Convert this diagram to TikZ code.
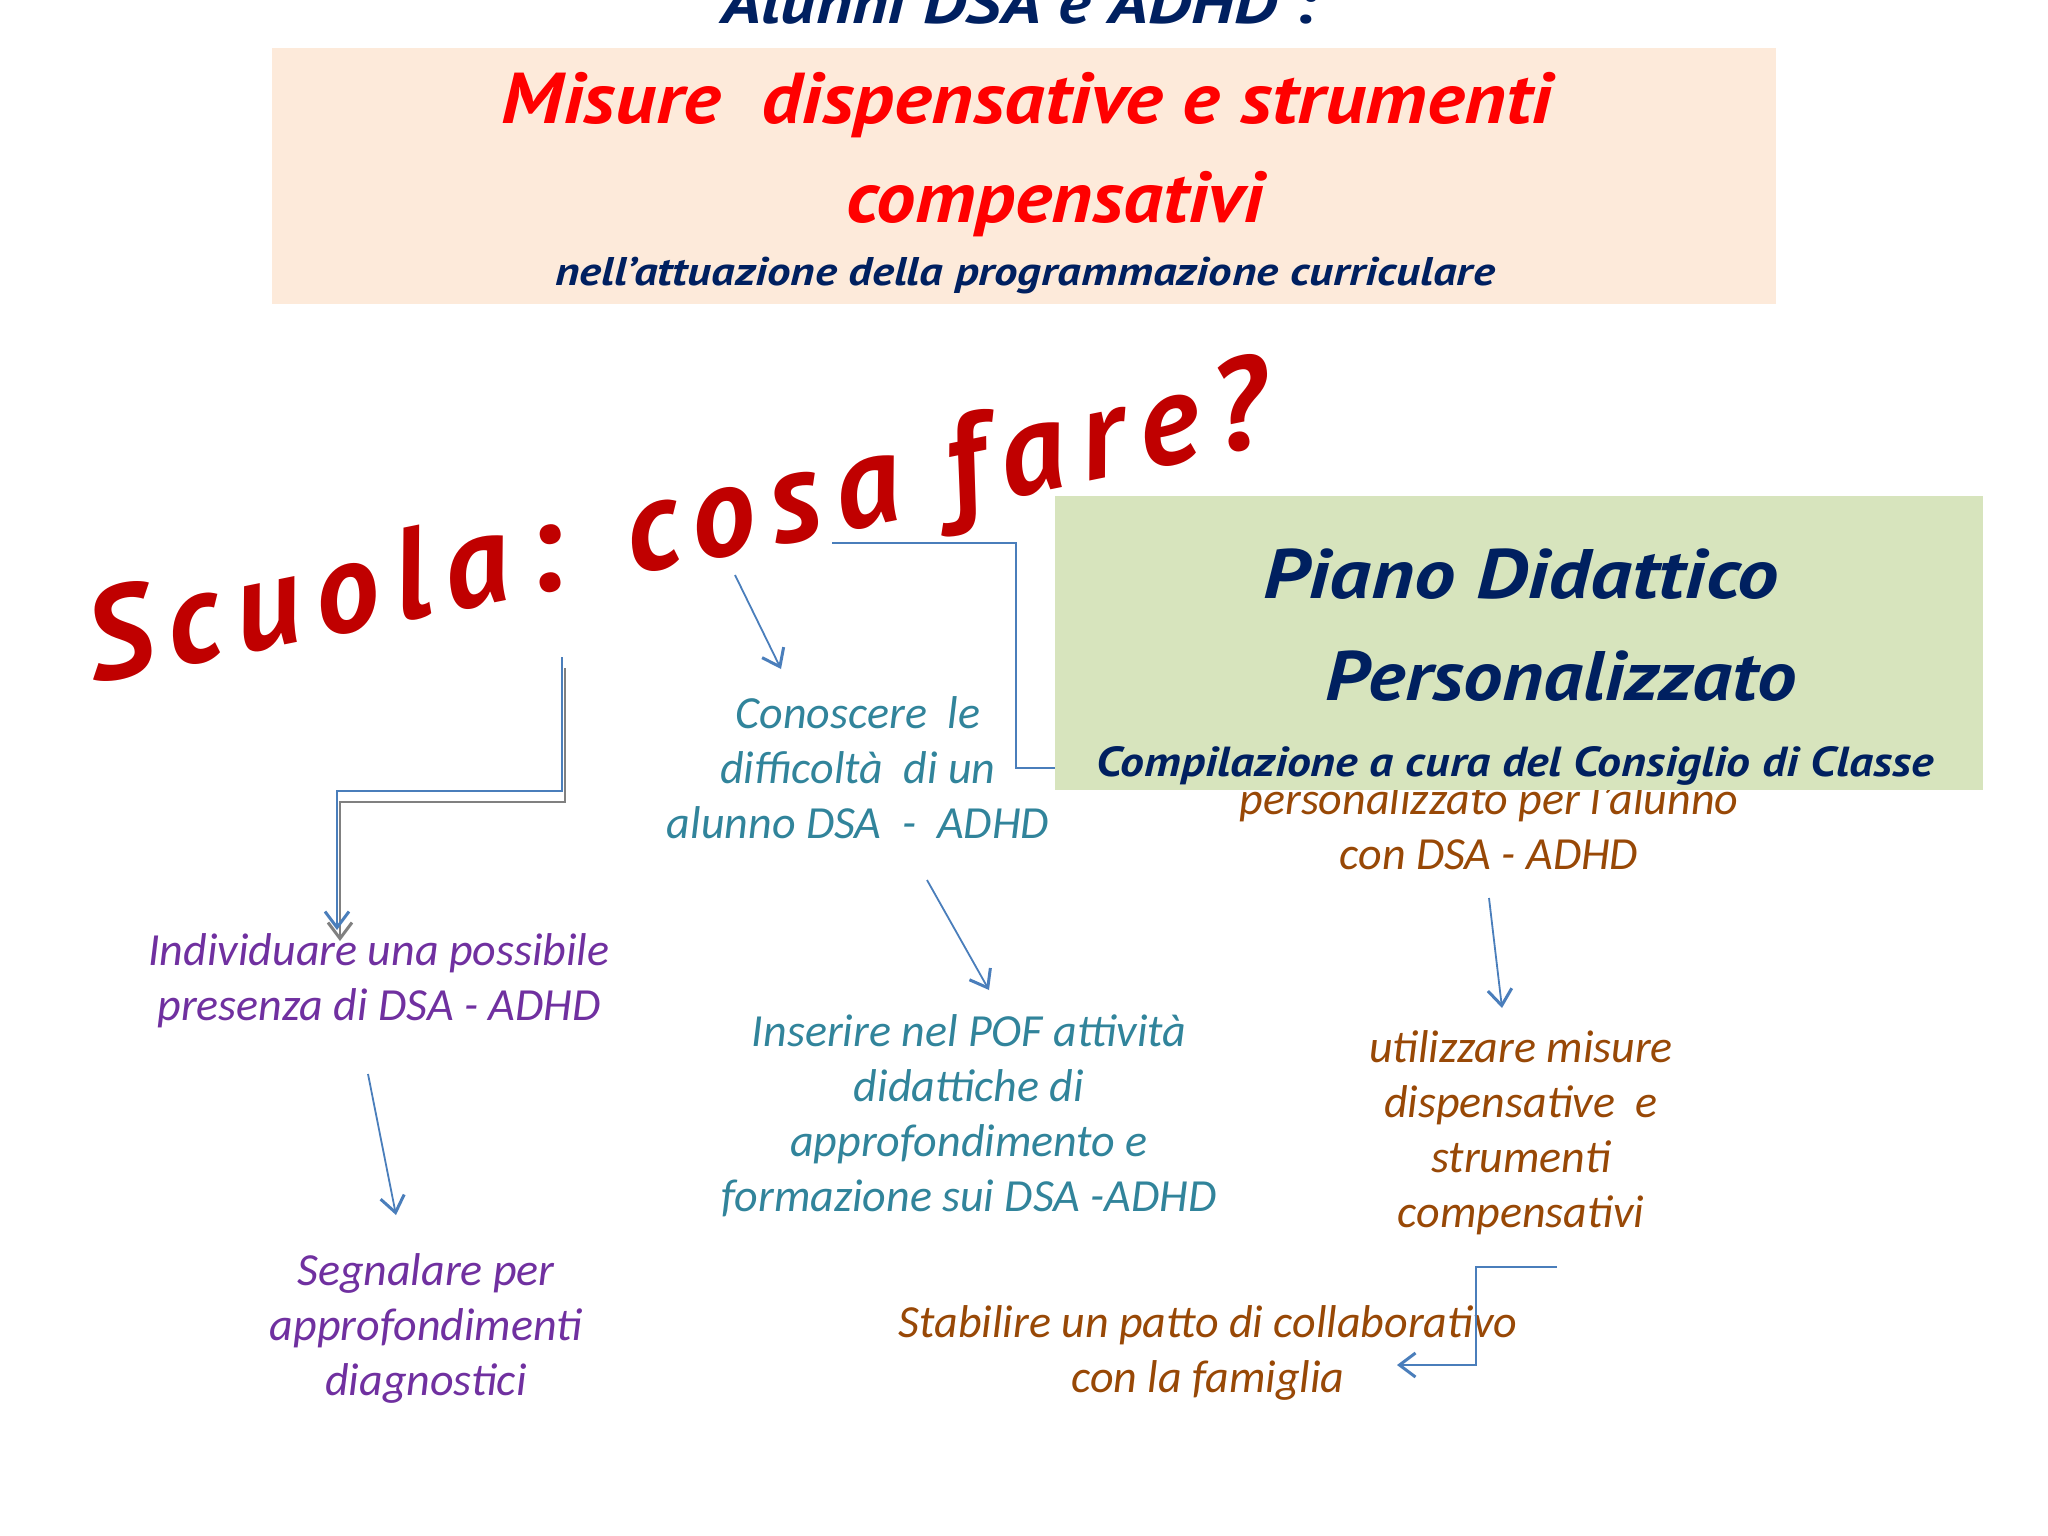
\documentclass[tikz,border=0pt]{standalone}
\usepackage{fontspec}
\setmainfont{Carlito}
\newfontfamily\handfont{PT Sans}
\newfontfamily\handspaced[LetterSpace=12]{PT Sans}
\usetikzlibrary{arrows.meta}
\definecolor{peach}{HTML}{FDEADA}
\definecolor{pdpgreen}{HTML}{D7E4BD}
\definecolor{navy}{HTML}{002060}
\definecolor{brightred}{HTML}{FF0000}
\definecolor{darkred}{HTML}{C00000}
\definecolor{tealc}{HTML}{31849B}
\definecolor{purplec}{HTML}{7030A0}
\definecolor{brownc}{HTML}{984806}
\definecolor{lineblue}{HTML}{4A7EBB}
\definecolor{shadowgray}{HTML}{808080}
\begin{document}
\begin{tikzpicture}[x=1pt,y=-1pt,
  txt/.style={inner sep=0pt, align=center, font=\fontsize{46}{55}\selectfont\itshape},
  hand/.style={inner sep=0pt, anchor=base},
  conn/.style={draw=lineblue, line width=1.8pt},
  arr/.style={conn, -{Straight Barb[length=16pt,width=24pt,line width=3pt]}},
  sarr/.style={draw=shadowgray, line width=1.8pt, -{Straight Barb[length=16pt,width=24pt,line width=3pt]}}]
\clip (0,0) rectangle (2048,1536);
\fill[white] (0,0) rectangle (2048,1536);

% header
\node[hand, text=navy, font=\handfont\bfseries\itshape\fontsize{60}{60}\selectfont] (title) at (1019,24) {\scalebox{1.15}[1]{Alunni DSA e ADHD :}};
\fill[peach] (272,48) rectangle (1776,304);
\node[hand, text=brightred, font=\handfont\bfseries\itshape\fontsize{72}{72}\selectfont] (mis) at (1027,124) {\scalebox{1.11}[1]{Misure\ \ dispensative e strumenti}};
\node[hand, text=brightred, font=\handfont\bfseries\itshape\fontsize{72}{72}\selectfont] (comp) at (1055,222) {\scalebox{1.09}[1]{compensativi}};
\node[hand, text=navy, font=\handfont\bfseries\itshape\fontsize{40}{40}\selectfont] (nell) at (1025,285) {\scalebox{1.17}[1]{nell’attuazione della programmazione curriculare}};

% big slanted title
\node[inner sep=0pt, anchor=base west, rotate=11.5, text=darkred, font=\handspaced\bfseries\itshape\fontsize{130}{130}\selectfont] (scuola) at (94,684) {Scuola: cosa fare?};

% hidden brown text behind the green box
\node[txt, text=brownc] (per) at (1489,826) {personalizzato per l’alunno\\con DSA - ADHD};

% green box
\fill[pdpgreen] (1055,496) rectangle (1983,790);
\node[hand, text=navy, font=\handfont\bfseries\itshape\fontsize{70}{70}\selectfont] (piano) at (1521,598) {\scalebox{1.18}[1]{Piano Didattico}};
\node[hand, text=navy, font=\handfont\bfseries\itshape\fontsize{70}{70}\selectfont] (pers) at (1561,700) {\scalebox{1.125}[1]{Personalizzato}};
\node[hand, text=navy, font=\handfont\bfseries\itshape\fontsize{42}{42}\selectfont] (compil) at (1515,776) {\scalebox{1.135}[1]{Compilazione a cura del Consiglio di Classe}};

% body texts
\node[txt, text=tealc] (con) at (858,768) {Conoscere\ \ le\\difficoltà\ \ di un\\alunno DSA\ \ -\ \ ADHD};
\node[txt, text=tealc] (ins) at (969,1116) {Inserire nel POF attività\\didattiche di\\approfondimento e\\formazione sui DSA -ADHD};
\node[txt, text=purplec] (ind) at (379,981) {Individuare una possibile\\presenza di DSA - ADHD};
\node[txt, text=purplec] (seg) at (426,1328) {Segnalare per\\approfondimenti\\diagnostici};
\node[txt, text=brownc] (uti) at (1521,1133) {utilizzare misure\\dispensative\ \ e\\strumenti\\compensativi};
\node[txt, text=brownc] (sta) at (1208,1353) {Stabilire un patto di collaborativo\\con la famiglia};

% connector coordinates
\coordinate (s1) at (832,543);
\coordinate (s2) at (1055,768);
\coordinate (c1) at (735,575);
\coordinate (c2) at (781,669);
\coordinate (i1) at (927,880);
\coordinate (i2) at (989,990);
\coordinate (p1) at (1489,898);
\coordinate (p2) at (1502,1008);
\coordinate (u1) at (1557,1267);
\coordinate (u2) at (1397,1365);
\coordinate (d1) at (368,1074);
\coordinate (d2) at (396,1215);
\coordinate (e1) at (562,657);
\coordinate (e2) at (337,930);
\coordinate (g1) at (565,668);
\coordinate (g2) at (340,941);

% connectors
\draw[sarr] (g1) -- (565,802) -- (340,802) -- (g2);
\draw[arr] (e1) -- (562,791) -- (337,791) -- (e2);
\draw[conn] (s1) -- (1016,543) -- (1016,768) -- (s2);
\draw[arr] (c1) -- (c2);
\draw[arr] (i1) -- (i2);
\draw[arr] (p1) -- (p2);
\draw[arr] (u1) -- (1476,1267) -- (1476,1365) -- (u2);
\draw[arr] (d1) -- (d2);
\end{tikzpicture}
\end{document}
